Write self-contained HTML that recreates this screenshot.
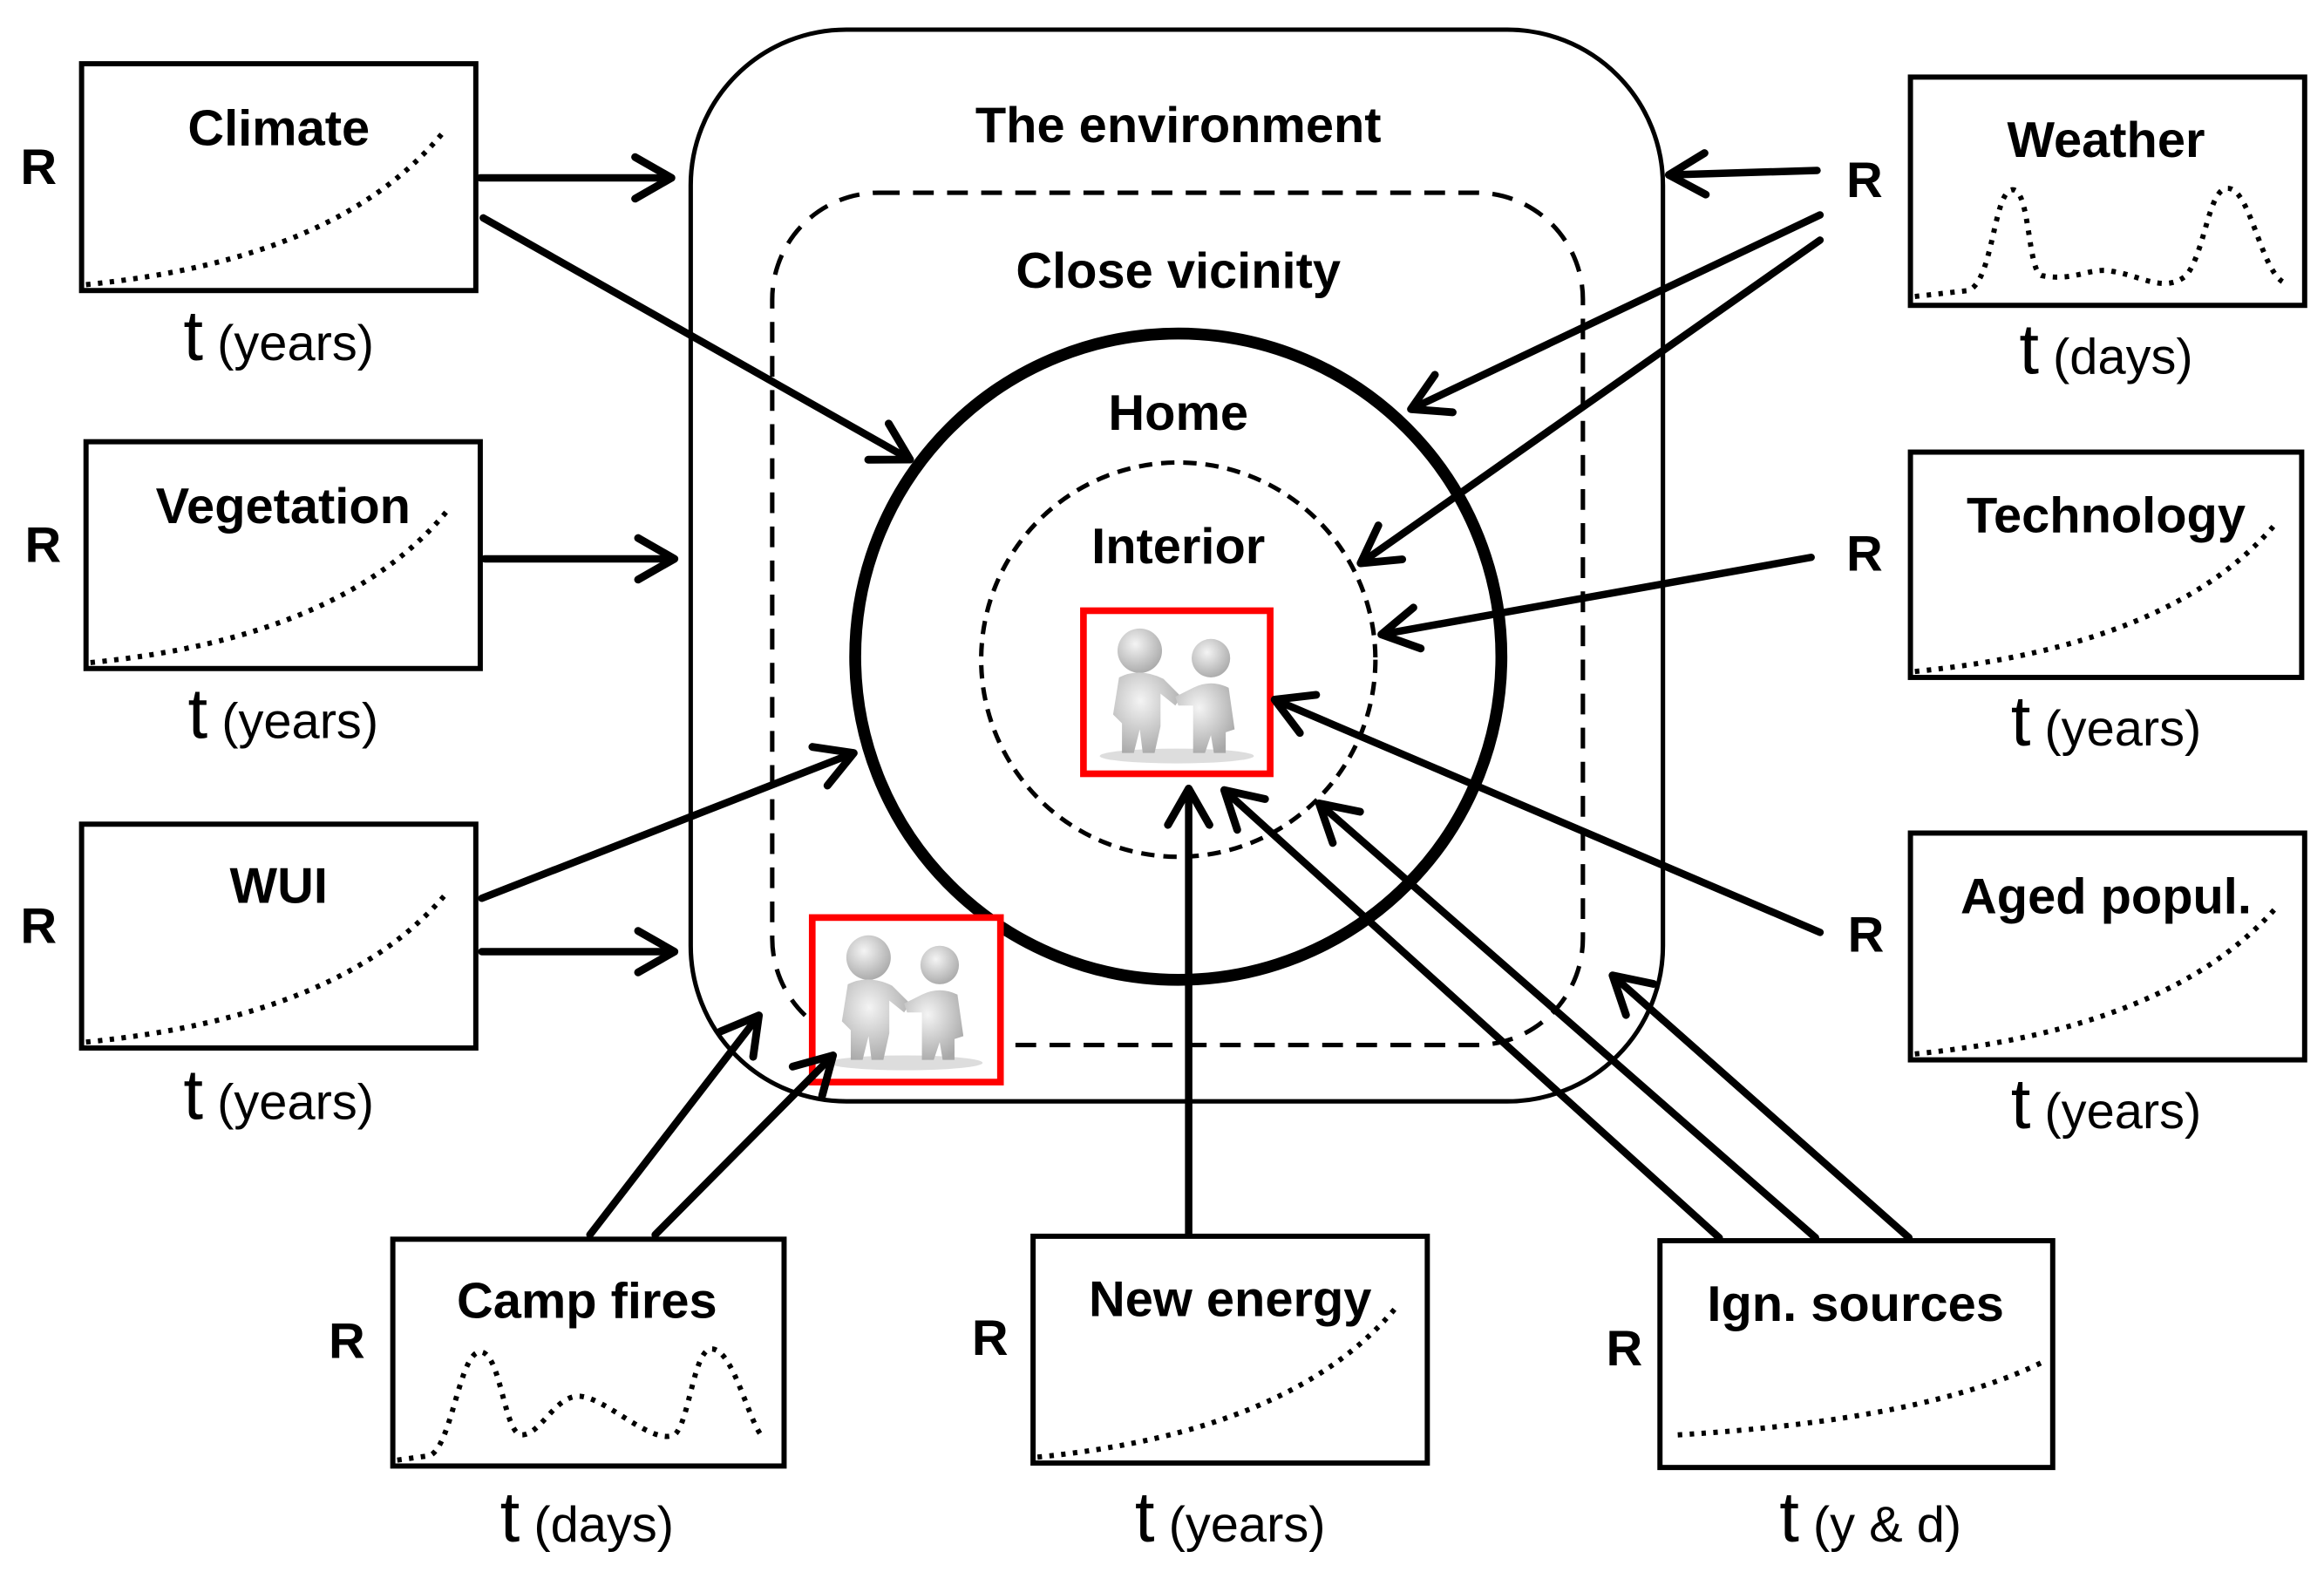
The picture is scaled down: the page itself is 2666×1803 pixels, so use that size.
<!DOCTYPE html>
<html><head><meta charset="utf-8"><style>
html,body{margin:0;padding:0;background:#fff}
svg{display:block}
text{font-family:"Liberation Sans",sans-serif}
.b{font-weight:bold;font-size:34px}
.t{font-size:48px}
.ts{font-size:34px}
.box{fill:#fff;stroke:#000;stroke-width:3.5}
.dot{fill:none;stroke:#000;stroke-width:3.5;stroke-dasharray:3 5}
.ar{stroke:#000;stroke-width:5;fill:none;stroke-linecap:round}
</style></head><body>
<svg width="2666" height="1803" viewBox="0 0 1568 1060.5" xmlns="http://www.w3.org/2000/svg">
<defs>
<marker id="m" viewBox="0 0 20 20" refX="18" refY="10" markerWidth="7" markerHeight="7" orient="auto" markerUnits="strokeWidth">
<polyline points="4,2 18,10 4,18" fill="none" stroke="#000" stroke-width="3" stroke-linecap="round" stroke-linejoin="round"/>
</marker>
<radialGradient id="g" cx="40%" cy="35%" r="70%"><stop offset="0" stop-color="#f4f4f4"/><stop offset="1" stop-color="#a8a8a8"/></radialGradient>
<g id="pp">
<rect x="0" y="0" width="126" height="110" fill="#fff"/>
<ellipse cx="63" cy="98" rx="52" ry="5" fill="#ddd"/>
<circle cx="38" cy="27" r="15" fill="url(#g)"/>
<path d="M24 45 Q38 38 54 46 L66 58 L62 64 L52 56 L52 78 L48 96 L40 96 L38 80 L34 96 L26 96 L26 76 L20 70 Z" fill="url(#g)"/>
<circle cx="86" cy="32" r="13" fill="url(#g)"/>
<path d="M74 52 Q86 46 98 52 L102 80 L96 82 L96 96 L88 96 L86 84 L82 96 L74 96 L74 64 L64 64 L62 58 Z" fill="url(#g)"/>
</g>
</defs>
<rect x="466" y="20" width="656" height="723" rx="105" fill="none" stroke="#000" stroke-width="3"/>
<rect x="521" y="130" width="547" height="575" rx="72" fill="none" stroke="#000" stroke-width="3" stroke-dasharray="14 9"/>
<circle cx="795" cy="443" r="218" fill="#fff" stroke="#000" stroke-width="8"/>
<circle cx="795" cy="445" r="133" fill="none" stroke="#000" stroke-width="3" stroke-dasharray="9 6"/>
<text class="b" x="795" y="96" text-anchor="middle">The environment</text>
<text class="b" x="795" y="194" text-anchor="middle">Close vicinity</text>
<text class="b" x="795" y="290" text-anchor="middle">Home</text>
<text class="b" x="795" y="380" text-anchor="middle">Interior</text>
<use href="#pp" x="731" y="412"/>
<rect x="731" y="412" width="126" height="110" fill="none" stroke="#f00" stroke-width="4.5"/>
<use href="#pp" x="548" y="619"/>
<rect x="548" y="619" width="127" height="111" fill="none" stroke="#f00" stroke-width="4.5"/>
<rect class="box" x="55" y="43" width="266" height="153"/>
<text class="b" x="188" y="98" text-anchor="middle">Climate</text>
<path class="dot" d="M58 192 Q230 175 300 88"/>
<text class="b" x="26" y="124" text-anchor="middle">R</text>
<text x="188" y="243" text-anchor="middle"><tspan class="t">t</tspan><tspan class="ts"> (years)</tspan></text>
<rect class="box" x="58" y="298" width="266" height="153"/>
<text class="b" x="191" y="353" text-anchor="middle">Vegetation</text>
<path class="dot" d="M61 447 Q233 430 303 343"/>
<text class="b" x="29" y="379" text-anchor="middle">R</text>
<text x="191" y="498" text-anchor="middle"><tspan class="t">t</tspan><tspan class="ts"> (years)</tspan></text>
<rect class="box" x="55" y="556" width="266" height="151"/>
<text class="b" x="188" y="609" text-anchor="middle">WUI</text>
<path class="dot" d="M58 703 Q230 686 300 604"/>
<text class="b" x="26" y="636" text-anchor="middle">R</text>
<text x="188" y="755" text-anchor="middle"><tspan class="t">t</tspan><tspan class="ts"> (years)</tspan></text>
<rect class="box" x="1289" y="52" width="266" height="154"/>
<text class="b" x="1421" y="106" text-anchor="middle">Weather</text>
<path class="dot" d="M1292 200 L1328 196 C1345 190 1345 128 1358 128 C1370 128 1368 185 1378 186 C1400 190 1410 180 1425 183 C1445 186 1460 198 1475 186 C1488 170 1490 127 1503 127 C1518 127 1525 180 1540 190"/>
<text class="b" x="1258" y="133" text-anchor="middle">R</text>
<text x="1421" y="252" text-anchor="middle"><tspan class="t">t</tspan><tspan class="ts"> (days)</tspan></text>
<rect class="box" x="1289" y="305" width="264" height="152"/>
<text class="b" x="1421" y="359" text-anchor="middle">Technology</text>
<path class="dot" d="M1292 453 Q1464 436 1534 355"/>
<text class="b" x="1258" y="385" text-anchor="middle">R</text>
<text x="1421" y="503" text-anchor="middle"><tspan class="t">t</tspan><tspan class="ts"> (years)</tspan></text>
<rect class="box" x="1289" y="562" width="266" height="153"/>
<text class="b" x="1421" y="616" text-anchor="middle">Aged popul.</text>
<path class="dot" d="M1292 711 Q1464 694 1536 612"/>
<text class="b" x="1259" y="642" text-anchor="middle">R</text>
<text x="1421" y="761" text-anchor="middle"><tspan class="t">t</tspan><tspan class="ts"> (years)</tspan></text>
<rect class="box" x="265" y="836" width="264" height="153"/>
<text class="b" x="396" y="889" text-anchor="middle">Camp fires</text>
<path class="dot" d="M268 985 L290 982 C305 975 310 912 324 912 C338 912 340 968 352 968 C365 968 375 940 392 942 C410 944 440 975 455 968 C465 960 468 910 480 910 C495 910 505 960 515 970"/>
<text class="b" x="234" y="916" text-anchor="middle">R</text>
<text x="396" y="1040" text-anchor="middle"><tspan class="t">t</tspan><tspan class="ts"> (days)</tspan></text>
<rect class="box" x="697" y="834" width="266" height="153"/>
<text class="b" x="830" y="888" text-anchor="middle">New energy</text>
<path class="dot" d="M700 983 Q872 966 942 882"/>
<text class="b" x="668" y="914" text-anchor="middle">R</text>
<text x="830" y="1040" text-anchor="middle"><tspan class="t">t</tspan><tspan class="ts"> (years)</tspan></text>
<rect class="box" x="1120" y="837" width="265" height="153"/>
<text class="b" x="1252" y="891" text-anchor="middle">Ign. sources</text>
<path class="dot" d="M1132 968 Q1300 958 1380 918"/>
<text class="b" x="1096" y="921" text-anchor="middle">R</text>
<text x="1262" y="1040" text-anchor="middle"><tspan class="t">t</tspan><tspan class="ts"> (y &amp; d)</tspan></text>
<g class="ar" marker-end="url(#m)">
<line x1="324" y1="120" x2="453" y2="120"/>
<line x1="326" y1="147" x2="614" y2="310"/>
<line x1="327" y1="377" x2="455" y2="377"/>
<line x1="325" y1="606" x2="576" y2="508"/>
<line x1="325" y1="642" x2="455" y2="642"/>
<line x1="1226" y1="115" x2="1126" y2="118"/>
<line x1="1228" y1="145" x2="952" y2="276"/>
<line x1="1228" y1="162" x2="918" y2="380"/>
<line x1="1222" y1="376" x2="932" y2="428"/>
<line x1="1228" y1="629" x2="860" y2="472"/>
<line x1="398" y1="833" x2="512" y2="685"/>
<line x1="442" y1="833" x2="562" y2="712"/>
<line x1="802" y1="832" x2="802" y2="532"/>
<line x1="1160" y1="835" x2="826" y2="533"/>
<line x1="1225" y1="835" x2="890" y2="542"/>
<line x1="1288" y1="835" x2="1088" y2="658"/>
</g>
</svg>
</body></html>
